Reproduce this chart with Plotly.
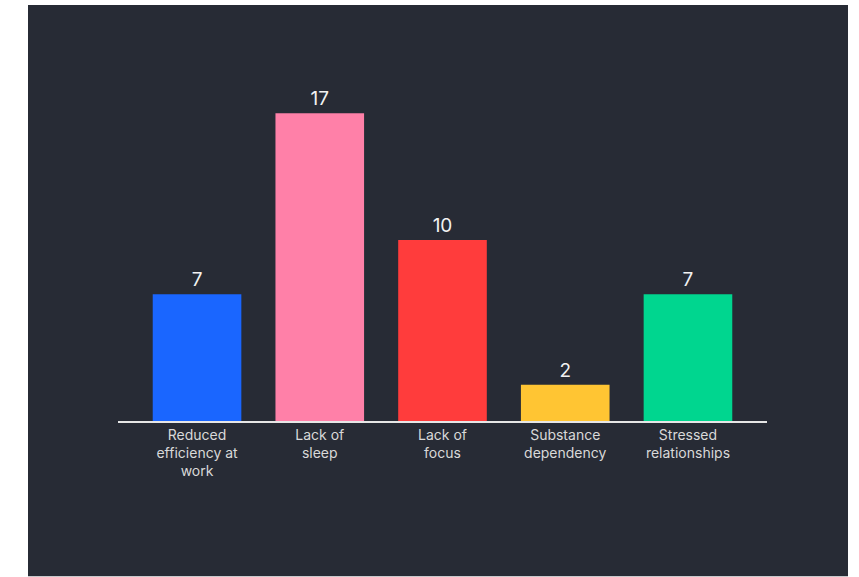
import plotly.graph_objects as go

# Effects reported, with counts
categories = [
    "Reduced<br>efficiency at<br>work",
    "Lack of<br>sleep",
    "Lack of<br>focus",
    "Substance<br>dependency",
    "Stressed<br>relationships",
]
counts = [7, 17, 10, 2, 7]
bar_colors = ["#1a66ff", "#ff80a8", "#ff3c3c", "#ffc533", "#00d68f"]

W, H = 859, 577
ML, MR, MT, MB = 118, 92, 59, 155.5
BG = "#272b35"

fig = go.Figure(
    go.Bar(
        x=list(range(len(categories))),
        y=counts,
        marker=dict(color=bar_colors, line=dict(width=0)),
        text=[str(v) for v in counts],
        textposition="outside",
        textfont=dict(family="Inter, sans-serif", size=19, color="#f2f2f2"),
        cliponaxis=False,
        width=0.722,
        hoverinfo="skip",
    )
)

# dark panel placed in pixel terms relative to the plot area
pw = W - ML - MR
ph = H - MT - MB
def px_x(p):
    return (p - ML) / pw
def px_y(p):
    return (H - MB - p) / ph

fig.add_shape(
    type="rect", xref="paper", yref="paper", layer="below",
    x0=px_x(28), x1=px_x(848), y0=px_y(577), y1=px_y(5),
    fillcolor=BG, line=dict(width=0),
)

fig.update_layout(
    width=W, height=H,
    margin=dict(l=ML, r=MR, t=MT, b=MB, pad=0),
    paper_bgcolor="white",
    plot_bgcolor="rgba(0,0,0,0)",
    showlegend=False,
    xaxis=dict(
        range=[-0.644, 4.644],
        tickmode="array",
        tickvals=list(range(len(categories))),
        ticktext=categories,
        ticks="",
        showgrid=False,
        zeroline=False,
        showline=True,
        linecolor="#e6e6e6",
        linewidth=2,
        tickfont=dict(family="Inter, sans-serif", size=14, color="#d9d9d9"),
        fixedrange=True,
    ),
    yaxis=dict(
        range=[0, 20],
        visible=False,
        fixedrange=True,
    ),
)

fig.write_html("out.html", config={"displayModeBar": False})
